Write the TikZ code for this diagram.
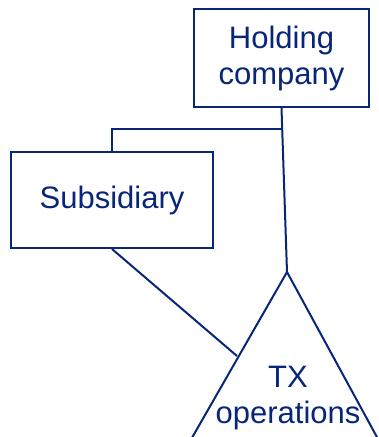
\documentclass[tikz,border=0pt]{standalone}
\usepackage{fontspec}
\setmainfont{Liberation Sans}
\definecolor{navy}{RGB}{8,38,120}

\begin{document}
\begin{tikzpicture}[
  x=1pt,y=-1pt,
  every node/.style={text=navy,font=\fontsize{31}{36}\selectfont,align=center,inner sep=0pt},
  entity/.style={draw=navy,line width=2pt,fill=white,rectangle},
  link/.style={draw=navy,line width=2pt}
]
  \useasboundingbox (0,0) rectangle (379,437);
  \clip (0,0) rectangle (379,437);
  \node[entity,minimum width=175,minimum height=98] (holding) at (281.5,58) {Holding\\company};
  \node[entity,minimum width=202,minimum height=96] (sub) at (112,200) {Subsidiary};
  % triangle for the partnership
  \coordinate (apex) at (287,272);
  \coordinate (left) at (185,450);
  \coordinate (right) at (384,450);
  \coordinate (hit) at (237,356);
  \coordinate (junction) at (282.7,129);
  \draw[link,line join=miter] (left) -- (apex) -- (right);
  \node (tx) at (288,398) {TX\\operations};
  \draw[link] (holding.south) -- (apex);
  \draw[link] (sub.north) |- (junction);
  \draw[link] (sub.south) -- (hit);
\end{tikzpicture}
\end{document}
